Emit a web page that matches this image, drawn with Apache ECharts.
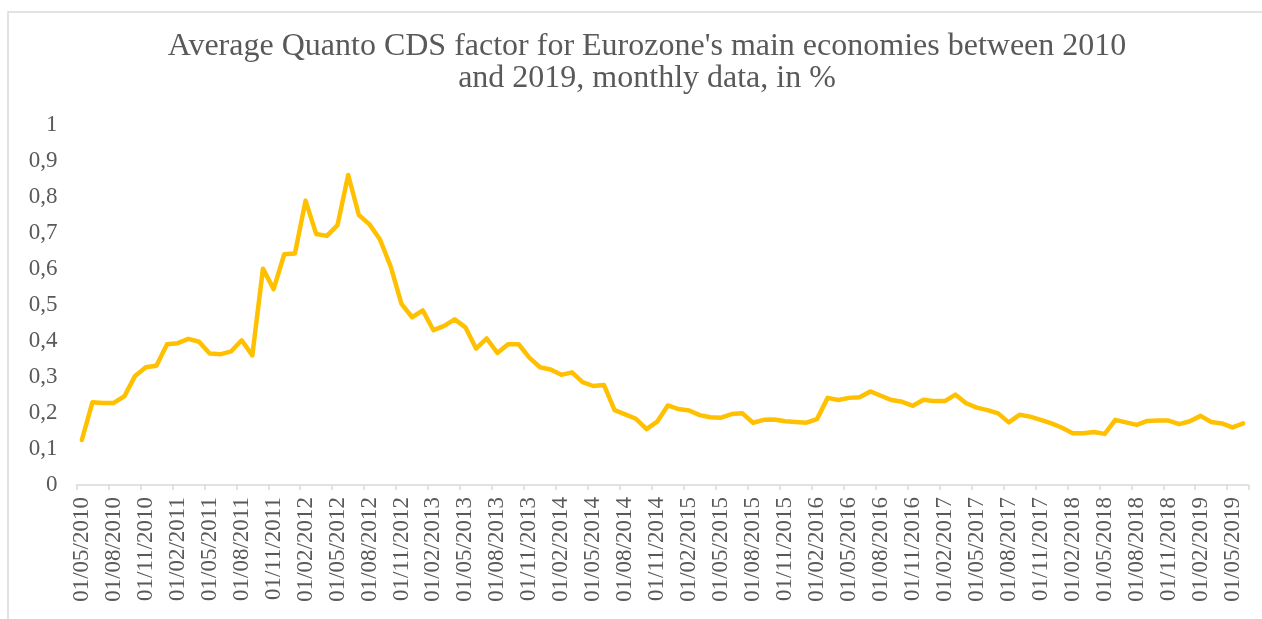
<!DOCTYPE html>
<html>
<head>
<meta charset="utf-8">
<style>
  html, body { margin: 0; padding: 0; background: #ffffff; }
  #chart { width: 1262px; height: 619px; }
</style>
<script src="https://cdn.jsdelivr.net/npm/echarts@6/dist/echarts.min.js"></script>
</head>
<body>
<div id="chart"></div>
<script>
// Monthly series, first observation May 2010, last June 2019
const startYear = 2010;
const startMonth = 5;
const monthCount = 110;

// Average Quanto CDS factor, in %
const quantoFactor = [
  0.125, 0.230, 0.228, 0.228, 0.247, 0.303, 0.327, 0.331, 0.391, 0.394,
  0.406, 0.398, 0.365, 0.363, 0.371, 0.402, 0.360, 0.601, 0.544, 0.641,
  0.643, 0.790, 0.697, 0.692, 0.722, 0.861, 0.750, 0.724, 0.681, 0.606,
  0.503, 0.466, 0.485, 0.430, 0.442, 0.460, 0.438, 0.379, 0.407, 0.367,
  0.391, 0.391, 0.354, 0.327, 0.321, 0.306, 0.313, 0.286, 0.275, 0.278,
  0.208, 0.196, 0.184, 0.155, 0.176, 0.221, 0.211, 0.207, 0.194, 0.188,
  0.187, 0.197, 0.199, 0.173, 0.181, 0.182, 0.177, 0.175, 0.173, 0.183,
  0.242, 0.236, 0.242, 0.244, 0.260, 0.248, 0.236, 0.231, 0.220, 0.237,
  0.233, 0.233, 0.251, 0.227, 0.215, 0.208, 0.199, 0.174, 0.195, 0.190,
  0.181, 0.171, 0.159, 0.144, 0.144, 0.147, 0.142, 0.181, 0.174, 0.167,
  0.178, 0.179, 0.179, 0.169, 0.177, 0.192, 0.175, 0.171, 0.160, 0.171
];

// Value axis ticks
const yMin = 0;
const yMax = 1;
const yStep = 0.1;

const titleLines = [
  "Average Quanto CDS factor for Eurozone's main economies between 2010",
  "and 2019, monthly data, in %"
];

// Category labels: first day of each month, dd/mm/yyyy
const months = [];
for (let k = 0; k < monthCount; k++) {
  const m0 = startMonth - 1 + k;
  const y = startYear + Math.floor(m0 / 12);
  const m = (m0 % 12) + 1;
  months.push('01/' + (m < 10 ? '0' + m : '' + m) + '/' + y);
}

const serif = '"Liberation Serif", "DejaVu Serif", serif';
const textGrey = '#595959';
const axisGrey = '#d9d9d9';

const chart = echarts.init(document.getElementById('chart'), null, { renderer: 'canvas' });
chart.setOption({
  animation: false,
  backgroundColor: '#ffffff',
  title: {
    text: titleLines.join('\n'),
    left: 642,
    top: 26,
    textAlign: 'center',
    textStyle: {
      fontFamily: serif,
      fontSize: 32,
      fontWeight: 'normal',
      color: textGrey,
      lineHeight: 32
    }
  },
  graphic: [{
    type: 'rect',
    silent: true,
    shape: { x: 8, y: 12, width: 1300, height: 700 },
    style: { fill: 'none', stroke: axisGrey, lineWidth: 1.5 }
  }],
  grid: { left: 76.5, right: 13.5, top: 125, bottom: 134, containLabel: false },
  xAxis: {
    type: 'category',
    data: months,
    boundaryGap: true,
    axisLine: { show: true, lineStyle: { color: axisGrey, width: 1.5 } },
    axisTick: { show: true, interval: 2, length: 5, lineStyle: { color: axisGrey, width: 1.5 } },
    axisLabel: {
      interval: 2,
      rotate: 90,
      margin: 12,
      fontFamily: serif,
      fontSize: 23,
      color: textGrey
    },
    splitLine: { show: false }
  },
  yAxis: {
    type: 'value',
    min: yMin,
    max: yMax,
    interval: yStep,
    axisLine: { show: false },
    axisTick: { show: false },
    splitLine: { show: false },
    axisLabel: {
      margin: 19,
      fontFamily: serif,
      fontSize: 23,
      color: textGrey,
      formatter: v => String(Math.round(v * 10) / 10).replace('.', ',')
    }
  },
  series: [{
    type: 'line',
    data: quantoFactor,
    showSymbol: false,
    symbol: 'none',
    lineStyle: { color: '#FFC000', width: 4.5, cap: 'round', join: 'round' }
  }]
});
</script>
</body>
</html>
